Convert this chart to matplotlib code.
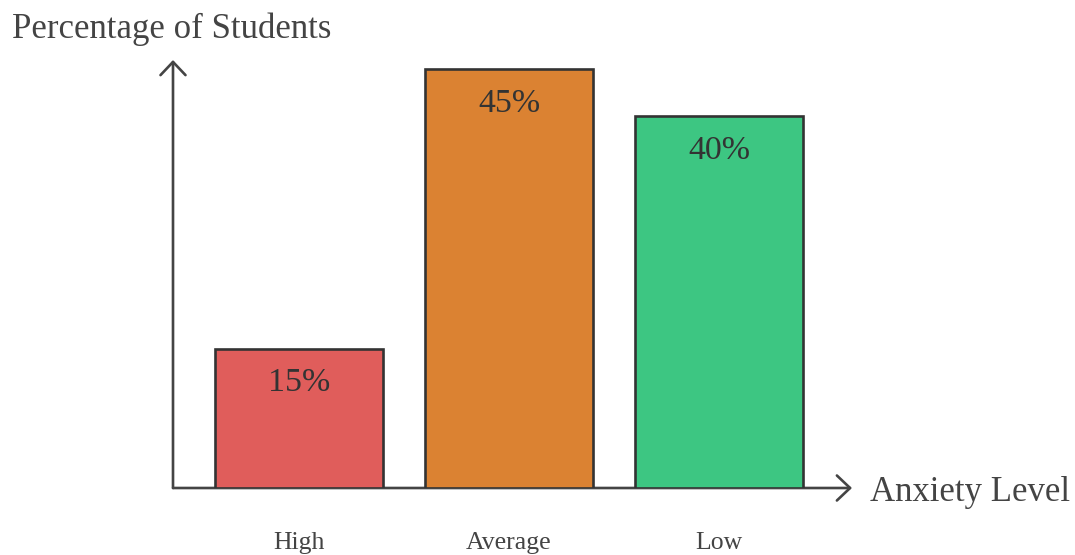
import matplotlib
matplotlib.use("Agg")
import matplotlib.pyplot as plt

# Survey results: share of students at each anxiety level
levels = ["High", "Average", "Low"]
percentages = [15, 45, 40]
bar_colors = ["#E05D5B", "#DB8232", "#3DC682"]

plt.rcParams['font.family'] = ['Liberation Serif', 'DejaVu Serif']

fig = plt.figure(figsize=(10.75, 5.55), dpi=100)
W, H = 1075, 555
ax = fig.add_axes([173 / W, (H - 488) / H, (852 - 173) / W, (488 - 60) / H])

x = range(len(levels))
ax.bar(x, percentages, width=0.8, color=bar_colors, edgecolor="#333333",
       linewidth=1.9, zorder=2)

# value labels inside the top of each bar
for xi, p in zip(x, percentages):
    ax.annotate(f"{p}%", xy=(xi, p), xytext=(0, -14), textcoords="offset points",
                ha="center", va="top", fontsize=24.5, color="#333333")

ax.set_xlim(-0.6, 2.633)
ax.set_ylim(0, (488 - 60) / 9.3)

for s in ax.spines.values():
    s.set_visible(False)
ax.set_yticks([])
ax.set_xticks(list(x))
ax.set_xticklabels(levels, fontsize=18.5, color="#444444")
ax.tick_params(axis="x", length=0, pad=32)

# axes drawn as arrows
arrow = dict(arrowstyle="->,head_length=0.95,head_width=0.9", color="#444444",
             lw=1.9, shrinkA=0, shrinkB=0)
ax.annotate("", xy=(1, 0), xytext=(0, 0), xycoords="axes fraction",
            textcoords="axes fraction", arrowprops=arrow, zorder=1)
ax.annotate("", xy=(0, 1), xytext=(0, 0), xycoords="axes fraction",
            textcoords="axes fraction", arrowprops=arrow, zorder=1)

fig.text(12 / W, 1 - 38 / H, "Percentage of Students", fontsize=25,
         color="#444444", va="baseline", ha="left")
fig.text(870 / W, 1 - 501 / H, "Anxiety Level", fontsize=25,
         color="#444444", va="baseline", ha="left")

fig.savefig("out.png", dpi=100, facecolor="white")
